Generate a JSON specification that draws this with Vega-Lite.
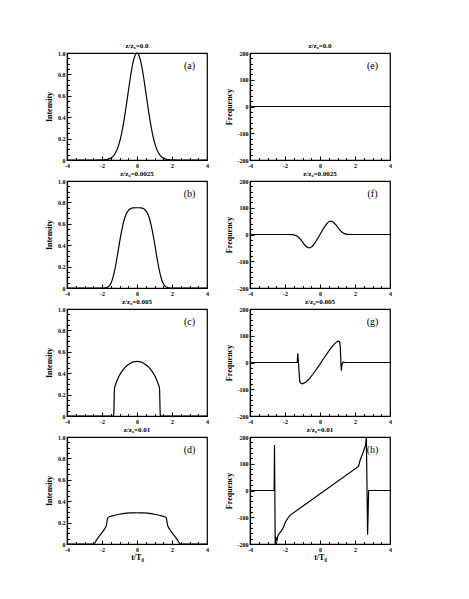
{
  "$schema": "https://vega.github.io/schema/vega-lite/v6.json",
  "padding": {"left": 44, "top": 41, "right": 5, "bottom": 5},
  "datasets": {
    "a": [{"t":-4,"v":0},{"t":-2.4,"v":0},{"t":-2.0,"v":0.0007},{"t":-1.8,"v":0.0029},{"t":-1.7,"v":0.0055},{"t":-1.6,"v":0.0100},{"t":-1.5,"v":0.0174},{"t":-1.4,"v":0.0294},{"t":-1.3,"v":0.0477},{"t":-1.2,"v":0.0749},{"t":-1.1,"v":0.1133},{"t":-1.0,"v":0.1653},{"t":-0.9,"v":0.2327},{"t":-0.8,"v":0.3160},{"t":-0.7,"v":0.4140},{"t":-0.6,"v":0.5231},{"t":-0.5,"v":0.6376},{"t":-0.4,"v":0.7498},{"t":-0.3,"v":0.8504},{"t":-0.2,"v":0.9305},{"t":-0.1,"v":0.9822},{"t":0,"v":1.0},{"t":0.1,"v":0.9822},{"t":0.2,"v":0.9305},{"t":0.3,"v":0.8504},{"t":0.4,"v":0.7498},{"t":0.5,"v":0.6376},{"t":0.6,"v":0.5231},{"t":0.7,"v":0.4140},{"t":0.8,"v":0.3160},{"t":0.9,"v":0.2327},{"t":1.0,"v":0.1653},{"t":1.1,"v":0.1133},{"t":1.2,"v":0.0749},{"t":1.3,"v":0.0477},{"t":1.4,"v":0.0294},{"t":1.5,"v":0.0174},{"t":1.6,"v":0.0100},{"t":1.7,"v":0.0055},{"t":1.8,"v":0.0029},{"t":2.0,"v":0.0007},{"t":2.4,"v":0},{"t":4,"v":0}],
    "b": [{"t":-4,"v":0},{"t":-2.2,"v":0},{"t":-2.0,"v":0.0001},{"t":-1.8,"v":0.0019},{"t":-1.7,"v":0.0063},{"t":-1.6,"v":0.0177},{"t":-1.5,"v":0.0415},{"t":-1.4,"v":0.0834},{"t":-1.3,"v":0.1464},{"t":-1.2,"v":0.2290},{"t":-1.1,"v":0.3245},{"t":-1.0,"v":0.4233},{"t":-0.9,"v":0.5155},{"t":-0.8,"v":0.593},{"t":-0.7,"v":0.654},{"t":-0.6,"v":0.696},{"t":-0.5,"v":0.724},{"t":-0.4,"v":0.739},{"t":-0.3,"v":0.7465},{"t":-0.2,"v":0.749},{"t":-0.1,"v":0.75},{"t":0,"v":0.75},{"t":0.1,"v":0.75},{"t":0.2,"v":0.749},{"t":0.3,"v":0.7465},{"t":0.4,"v":0.739},{"t":0.5,"v":0.724},{"t":0.6,"v":0.696},{"t":0.7,"v":0.654},{"t":0.8,"v":0.593},{"t":0.9,"v":0.5155},{"t":1.0,"v":0.4233},{"t":1.1,"v":0.3245},{"t":1.2,"v":0.2290},{"t":1.3,"v":0.1464},{"t":1.4,"v":0.0834},{"t":1.5,"v":0.0415},{"t":1.6,"v":0.0177},{"t":1.7,"v":0.0063},{"t":1.8,"v":0.0019},{"t":2.0,"v":0.0001},{"t":2.2,"v":0},{"t":4,"v":0}],
    "c": [{"t":-4,"v":0},{"t":-1.36,"v":0},{"t":-1.33,"v":0.01},{"t":-1.31,"v":0.12},{"t":-1.29,"v":0.245},{"t":-1.27,"v":0.272},{"t":-1.24,"v":0.287},{"t":-1.2,"v":0.306},{"t":-1.1,"v":0.3467},{"t":-1.0,"v":0.3801},{"t":-0.9,"v":0.408},{"t":-0.8,"v":0.4314},{"t":-0.6,"v":0.4674},{"t":-0.4,"v":0.4915},{"t":-0.2,"v":0.5055},{"t":0,"v":0.51},{"t":0.2,"v":0.5055},{"t":0.4,"v":0.4915},{"t":0.6,"v":0.4674},{"t":0.8,"v":0.4314},{"t":0.9,"v":0.408},{"t":1.0,"v":0.3801},{"t":1.1,"v":0.3467},{"t":1.2,"v":0.306},{"t":1.24,"v":0.287},{"t":1.27,"v":0.272},{"t":1.29,"v":0.245},{"t":1.31,"v":0.12},{"t":1.33,"v":0.01},{"t":1.36,"v":0},{"t":4,"v":0}],
    "d": [{"t":-4,"v":0},{"t":-2.48,"v":0},{"t":-2.3,"v":0.04},{"t":-2.1,"v":0.085},{"t":-1.9,"v":0.13},{"t":-1.8,"v":0.155},{"t":-1.76,"v":0.17},{"t":-1.72,"v":0.2},{"t":-1.69,"v":0.235},{"t":-1.65,"v":0.248},{"t":-1.6,"v":0.253},{"t":-1.4,"v":0.263},{"t":-1.2,"v":0.271},{"t":-1.0,"v":0.278},{"t":-0.8,"v":0.284},{"t":-0.6,"v":0.288},{"t":-0.4,"v":0.29},{"t":-0.2,"v":0.291},{"t":0,"v":0.292},{"t":0.2,"v":0.291},{"t":0.4,"v":0.29},{"t":0.6,"v":0.288},{"t":0.8,"v":0.284},{"t":1.0,"v":0.278},{"t":1.2,"v":0.271},{"t":1.4,"v":0.263},{"t":1.6,"v":0.253},{"t":1.65,"v":0.248},{"t":1.69,"v":0.235},{"t":1.72,"v":0.2},{"t":1.76,"v":0.17},{"t":1.8,"v":0.155},{"t":1.9,"v":0.13},{"t":2.1,"v":0.085},{"t":2.3,"v":0.04},{"t":2.48,"v":0},{"t":4,"v":0}],
    "e": [{"t":-4,"v":0},{"t":4,"v":0}],
    "f": [{"t":-4,"v":0},{"t":-1.8,"v":0},{"t":-1.6,"v":-0.6},{"t":-1.4,"v":-3.4},{"t":-1.3,"v":-6.8},{"t":-1.2,"v":-12.1},{"t":-1.1,"v":-19.3},{"t":-1.0,"v":-27.9},{"t":-0.9,"v":-36.6},{"t":-0.8,"v":-44.1},{"t":-0.7,"v":-48.8},{"t":-0.6,"v":-50},{"t":-0.5,"v":-47.2},{"t":-0.4,"v":-41.2},{"t":-0.3,"v":-32.5},{"t":-0.2,"v":-22.3},{"t":-0.1,"v":-11.2},{"t":0,"v":0},{"t":0.1,"v":11.2},{"t":0.2,"v":22.3},{"t":0.3,"v":32.5},{"t":0.4,"v":41.2},{"t":0.5,"v":47.2},{"t":0.6,"v":50},{"t":0.7,"v":48.8},{"t":0.8,"v":44.1},{"t":0.9,"v":36.6},{"t":1.0,"v":27.9},{"t":1.1,"v":19.3},{"t":1.2,"v":12.1},{"t":1.3,"v":6.8},{"t":1.4,"v":3.4},{"t":1.6,"v":0.6},{"t":1.8,"v":0},{"t":4,"v":0}],
    "g": [{"t":-4,"v":0},{"t":-1.3,"v":0},{"t":-1.27,"v":34},{"t":-1.22,"v":-10},{"t":-1.16,"v":-70},{"t":-1.1,"v":-78},{"t":-1.0,"v":-80},{"t":-0.8,"v":-73},{"t":-0.6,"v":-60},{"t":-0.4,"v":-43},{"t":-0.2,"v":-25},{"t":0,"v":-6},{"t":0.2,"v":14},{"t":0.4,"v":33},{"t":0.6,"v":52},{"t":0.8,"v":68},{"t":0.95,"v":77},{"t":1.05,"v":80},{"t":1.12,"v":78},{"t":1.16,"v":60},{"t":1.2,"v":-10},{"t":1.22,"v":-31},{"t":1.26,"v":-5},{"t":1.3,"v":0},{"t":1.35,"v":2},{"t":1.4,"v":0},{"t":4,"v":0}],
    "h": [{"t":-4,"v":0},{"t":-2.62,"v":0},{"t":-2.6,"v":170},{"t":-2.56,"v":-200},{"t":-2.5,"v":-178},{"t":-2.45,"v":-185},{"t":-2.4,"v":-168},{"t":-2.3,"v":-158},{"t":-2.2,"v":-150},{"t":-2.1,"v":-138},{"t":-1.95,"v":-115},{"t":-1.8,"v":-100},{"t":-1.7,"v":-92},{"t":2.2,"v":90},{"t":2.3,"v":115},{"t":2.45,"v":140},{"t":2.6,"v":168},{"t":2.65,"v":200},{"t":2.72,"v":-165},{"t":2.78,"v":0},{"t":4,"v":0}]
  },
  "config": {
    "font": "Liberation Serif",
    "view": {"stroke": "black", "strokeWidth": 1.2},
    "axis": {"domainColor": "black", "domainWidth": 1.2, "tickColor": "black", "tickWidth": 1, "labelFont": "Liberation Serif", "labelFontSize": 6, "labelFontWeight": "bold", "labelColor": "black", "titleFont": "Liberation Serif", "titleFontSize": 8, "titleFontWeight": "bold", "titleColor": "black", "grid": false, "labelFlush": false, "labelBound": false},
    "title": {"font": "Liberation Serif", "fontSize": 7, "fontWeight": "bold", "color": "black", "offset": 1},
    "text": {"font": "Liberation Serif", "fontSize": 10, "color": "black"},
    "line": {"color": "black", "strokeWidth": 1.2}
  },
  "spacing": 0,
  "vconcat": [
    {"spacing": 14, "hconcat": [
      {"width": 140, "height": 107, "title": "z/z₀=0.0", "resolve": {"axis": {"x": "independent", "y": "independent"}}, "layer": [
        {"data": {"name": "a"}, "mark": {"type": "line", "interpolate": "monotone"}, "encoding": {
          "x": {"field": "t", "type": "quantitative", "scale": {"domain": [-4, 4], "nice": false}, "axis": {"title": null, "values": [-4,-2,0,2,4], "labelExpr": "'' + datum.value", "tickSize": -4, "labelPadding": 6}},
          "y": {"field": "v", "type": "quantitative", "scale": {"domain": [0, 1], "nice": false}, "axis": {"title": "Intensity", "titlePadding": 4, "values": [0,0.2,0.4,0.6,0.8,1], "labelExpr": "datum.value === 0 ? '0' : format(datum.value, '.1f')", "tickSize": -4, "labelPadding": 6}}
        }},
        {"data": {"values": [{"label": "(a)"}]}, "mark": {"type": "text"}, "encoding": {
          "x": {"datum": 3.0, "type": "quantitative", "axis": {"orient": "bottom", "title": null, "labels": false, "domain": false, "tickSize": -2.5, "values": [-3.5,-3,-2.5,-1.5,-1,-0.5,0.5,1,1.5,2.5,3,3.5]}},
          "y": {"datum": 0.88, "type": "quantitative", "axis": {"orient": "left", "title": null, "labels": false, "domain": false, "tickSize": -2.5, "values": [0.05,0.1,0.15,0.25,0.3,0.35,0.45,0.5,0.55,0.65,0.7,0.75,0.85,0.9,0.95]}},
          "text": {"field": "label"}}}
      ]},
      {"width": 140, "height": 107, "title": "z/z₀=0.0", "resolve": {"axis": {"x": "independent", "y": "independent"}}, "layer": [
        {"data": {"name": "e"}, "mark": {"type": "line"}, "encoding": {
          "x": {"field": "t", "type": "quantitative", "scale": {"domain": [-4, 4], "nice": false}, "axis": {"title": null, "values": [-4,-2,0,2,4], "labelExpr": "'' + datum.value", "tickSize": -4, "labelPadding": 6}},
          "y": {"field": "v", "type": "quantitative", "scale": {"domain": [-200, 200], "nice": false}, "axis": {"title": "Frequency", "titlePadding": 4, "values": [-200,-100,0,100,200], "labelExpr": "'' + datum.value", "tickSize": -4, "labelPadding": 6}}
        }},
        {"data": {"values": [{"label": "(e)"}]}, "mark": {"type": "text"}, "encoding": {
          "x": {"datum": 3.0, "type": "quantitative", "axis": {"orient": "bottom", "title": null, "labels": false, "domain": false, "tickSize": -2.5, "values": [-3.5,-3,-2.5,-1.5,-1,-0.5,0.5,1,1.5,2.5,3,3.5]}},
          "y": {"datum": 150, "type": "quantitative", "axis": {"orient": "left", "title": null, "labels": false, "domain": false, "tickSize": -2.5, "values": [-180,-160,-140,-120,-80,-60,-40,-20,20,40,60,80,120,140,160,180]}},
          "text": {"field": "label"}}}
      ]}
    ]},
    {"spacing": 14, "hconcat": [
      {"width": 140, "height": 107, "title": "z/z₀=0.0025", "resolve": {"axis": {"x": "independent", "y": "independent"}}, "layer": [
        {"data": {"name": "b"}, "mark": {"type": "line", "interpolate": "monotone"}, "encoding": {
          "x": {"field": "t", "type": "quantitative", "scale": {"domain": [-4, 4], "nice": false}, "axis": {"title": null, "values": [-4,-2,0,2,4], "labelExpr": "'' + datum.value", "tickSize": -4, "labelPadding": 6}},
          "y": {"field": "v", "type": "quantitative", "scale": {"domain": [0, 1], "nice": false}, "axis": {"title": "Intensity", "titlePadding": 4, "values": [0,0.2,0.4,0.6,0.8,1], "labelExpr": "datum.value === 0 ? '0' : format(datum.value, '.1f')", "tickSize": -4, "labelPadding": 6}}
        }},
        {"data": {"values": [{"label": "(b)"}]}, "mark": {"type": "text"}, "encoding": {
          "x": {"datum": 3.0, "type": "quantitative", "axis": {"orient": "bottom", "title": null, "labels": false, "domain": false, "tickSize": -2.5, "values": [-3.5,-3,-2.5,-1.5,-1,-0.5,0.5,1,1.5,2.5,3,3.5]}},
          "y": {"datum": 0.88, "type": "quantitative", "axis": {"orient": "left", "title": null, "labels": false, "domain": false, "tickSize": -2.5, "values": [0.05,0.1,0.15,0.25,0.3,0.35,0.45,0.5,0.55,0.65,0.7,0.75,0.85,0.9,0.95]}},
          "text": {"field": "label"}}}
      ]},
      {"width": 140, "height": 107, "title": "z/z₀=0.0025", "resolve": {"axis": {"x": "independent", "y": "independent"}}, "layer": [
        {"data": {"name": "f"}, "mark": {"type": "line", "interpolate": "monotone"}, "encoding": {
          "x": {"field": "t", "type": "quantitative", "scale": {"domain": [-4, 4], "nice": false}, "axis": {"title": null, "values": [-4,-2,0,2,4], "labelExpr": "'' + datum.value", "tickSize": -4, "labelPadding": 6}},
          "y": {"field": "v", "type": "quantitative", "scale": {"domain": [-200, 200], "nice": false}, "axis": {"title": "Frequency", "titlePadding": 4, "values": [-200,-100,0,100,200], "labelExpr": "'' + datum.value", "tickSize": -4, "labelPadding": 6}}
        }},
        {"data": {"values": [{"label": "(f)"}]}, "mark": {"type": "text"}, "encoding": {
          "x": {"datum": 3.0, "type": "quantitative", "axis": {"orient": "bottom", "title": null, "labels": false, "domain": false, "tickSize": -2.5, "values": [-3.5,-3,-2.5,-1.5,-1,-0.5,0.5,1,1.5,2.5,3,3.5]}},
          "y": {"datum": 150, "type": "quantitative", "axis": {"orient": "left", "title": null, "labels": false, "domain": false, "tickSize": -2.5, "values": [-180,-160,-140,-120,-80,-60,-40,-20,20,40,60,80,120,140,160,180]}},
          "text": {"field": "label"}}}
      ]}
    ]},
    {"spacing": 14, "hconcat": [
      {"width": 140, "height": 107, "title": "z/z₀=0.005", "resolve": {"axis": {"x": "independent", "y": "independent"}}, "layer": [
        {"data": {"name": "c"}, "mark": {"type": "line", "interpolate": "monotone"}, "encoding": {
          "x": {"field": "t", "type": "quantitative", "scale": {"domain": [-4, 4], "nice": false}, "axis": {"title": null, "values": [-4,-2,0,2,4], "labelExpr": "'' + datum.value", "tickSize": -4, "labelPadding": 6}},
          "y": {"field": "v", "type": "quantitative", "scale": {"domain": [0, 1], "nice": false}, "axis": {"title": "Intensity", "titlePadding": 4, "values": [0,0.2,0.4,0.6,0.8,1], "labelExpr": "datum.value === 0 ? '0' : format(datum.value, '.1f')", "tickSize": -4, "labelPadding": 6}}
        }},
        {"data": {"values": [{"label": "(c)"}]}, "mark": {"type": "text"}, "encoding": {
          "x": {"datum": 3.0, "type": "quantitative", "axis": {"orient": "bottom", "title": null, "labels": false, "domain": false, "tickSize": -2.5, "values": [-3.5,-3,-2.5,-1.5,-1,-0.5,0.5,1,1.5,2.5,3,3.5]}},
          "y": {"datum": 0.88, "type": "quantitative", "axis": {"orient": "left", "title": null, "labels": false, "domain": false, "tickSize": -2.5, "values": [0.05,0.1,0.15,0.25,0.3,0.35,0.45,0.5,0.55,0.65,0.7,0.75,0.85,0.9,0.95]}},
          "text": {"field": "label"}}}
      ]},
      {"width": 140, "height": 107, "title": "z/z₀=0.005", "resolve": {"axis": {"x": "independent", "y": "independent"}}, "layer": [
        {"data": {"name": "g"}, "mark": {"type": "line"}, "encoding": {
          "x": {"field": "t", "type": "quantitative", "scale": {"domain": [-4, 4], "nice": false}, "axis": {"title": null, "values": [-4,-2,0,2,4], "labelExpr": "'' + datum.value", "tickSize": -4, "labelPadding": 6}},
          "y": {"field": "v", "type": "quantitative", "scale": {"domain": [-200, 200], "nice": false}, "axis": {"title": "Frequency", "titlePadding": 4, "values": [-200,-100,0,100,200], "labelExpr": "'' + datum.value", "tickSize": -4, "labelPadding": 6}}
        }},
        {"data": {"values": [{"label": "(g)"}]}, "mark": {"type": "text"}, "encoding": {
          "x": {"datum": 3.0, "type": "quantitative", "axis": {"orient": "bottom", "title": null, "labels": false, "domain": false, "tickSize": -2.5, "values": [-3.5,-3,-2.5,-1.5,-1,-0.5,0.5,1,1.5,2.5,3,3.5]}},
          "y": {"datum": 150, "type": "quantitative", "axis": {"orient": "left", "title": null, "labels": false, "domain": false, "tickSize": -2.5, "values": [-180,-160,-140,-120,-80,-60,-40,-20,20,40,60,80,120,140,160,180]}},
          "text": {"field": "label"}}}
      ]}
    ]},
    {"spacing": 14, "hconcat": [
      {"width": 140, "height": 107, "title": "z/z₀=0.01", "resolve": {"axis": {"x": "independent", "y": "independent"}}, "layer": [
        {"data": {"name": "d"}, "mark": {"type": "line", "interpolate": "monotone"}, "encoding": {
          "x": {"field": "t", "type": "quantitative", "scale": {"domain": [-4, 4], "nice": false}, "axis": {"title": "t/T₀", "titlePadding": 1, "values": [-4,-2,0,2,4], "labelExpr": "'' + datum.value", "tickSize": -4, "labelPadding": 6}},
          "y": {"field": "v", "type": "quantitative", "scale": {"domain": [0, 1], "nice": false}, "axis": {"title": "Intensity", "titlePadding": 4, "values": [0,0.2,0.4,0.6,0.8,1], "labelExpr": "datum.value === 0 ? '0' : format(datum.value, '.1f')", "tickSize": -4, "labelPadding": 6}}
        }},
        {"data": {"values": [{"label": "(d)"}]}, "mark": {"type": "text"}, "encoding": {
          "x": {"datum": 3.0, "type": "quantitative", "axis": {"orient": "bottom", "title": null, "labels": false, "domain": false, "tickSize": -2.5, "values": [-3.5,-3,-2.5,-1.5,-1,-0.5,0.5,1,1.5,2.5,3,3.5]}},
          "y": {"datum": 0.88, "type": "quantitative", "axis": {"orient": "left", "title": null, "labels": false, "domain": false, "tickSize": -2.5, "values": [0.05,0.1,0.15,0.25,0.3,0.35,0.45,0.5,0.55,0.65,0.7,0.75,0.85,0.9,0.95]}},
          "text": {"field": "label"}}}
      ]},
      {"width": 140, "height": 107, "title": "z/z₀=0.01", "resolve": {"axis": {"x": "independent", "y": "independent"}}, "layer": [
        {"data": {"name": "h"}, "mark": {"type": "line"}, "encoding": {
          "x": {"field": "t", "type": "quantitative", "scale": {"domain": [-4, 4], "nice": false}, "axis": {"title": "t/T₀", "titlePadding": 1, "values": [-4,-2,0,2,4], "labelExpr": "'' + datum.value", "tickSize": -4, "labelPadding": 6}},
          "y": {"field": "v", "type": "quantitative", "scale": {"domain": [-200, 200], "nice": false}, "axis": {"title": "Frequency", "titlePadding": 4, "values": [-200,-100,0,100,200], "labelExpr": "'' + datum.value", "tickSize": -4, "labelPadding": 6}}
        }},
        {"data": {"values": [{"label": "(h)"}]}, "mark": {"type": "text"}, "encoding": {
          "x": {"datum": 3.0, "type": "quantitative", "axis": {"orient": "bottom", "title": null, "labels": false, "domain": false, "tickSize": -2.5, "values": [-3.5,-3,-2.5,-1.5,-1,-0.5,0.5,1,1.5,2.5,3,3.5]}},
          "y": {"datum": 150, "type": "quantitative", "axis": {"orient": "left", "title": null, "labels": false, "domain": false, "tickSize": -2.5, "values": [-180,-160,-140,-120,-80,-60,-40,-20,20,40,60,80,120,140,160,180]}},
          "text": {"field": "label"}}}
      ]}
    ]}
  ]
}
